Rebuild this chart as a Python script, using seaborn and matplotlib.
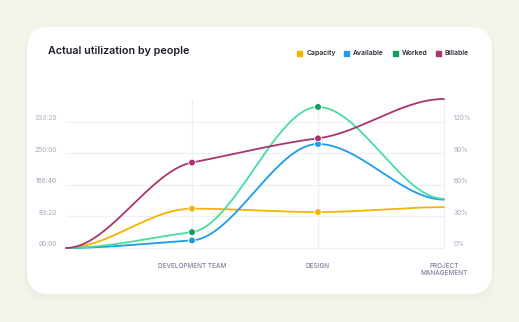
import numpy as np
import pandas as pd
import matplotlib
matplotlib.use("Agg")
import matplotlib.pyplot as plt
import seaborn as sns
from matplotlib.patches import FancyBboxPatch
from matplotlib.lines import Line2D
from matplotlib.transforms import ScaledTranslation

# ---------------- data ----------------
categories = ["", "DEVELOPMENT TEAM", "DESIGN", "PROJECT\nMANAGEMENT"]
series_names = ["Capacity", "Available", "Worked", "Billable"]
capacity = [0, 104, 95, 108]
available = [0, 20, 275, 128]
worked = [0, 42, 373, 130]
billable = [0, 226, 290, 394]
left_tick_values = [0, 83.333, 166.667, 250, 333.333]
left_tick_labels = ["00:00", "83:20", "166:40", "250:00", "333:20"]
right_tick_labels = ["0%", "30%", "60%", "90%", "120%"]
marked_categories = [1, 2]

line_colors = {"Capacity": "#F5B301", "Available": "#1C9CEB",
               "Worked": "#45DE9F", "Billable": "#A8356F"}
marker_colors = {"Capacity": "#F5B301", "Available": "#1C9CEB",
                 "Worked": "#0B9E61", "Billable": "#A8356F"}

values = {"Capacity": capacity, "Available": available,
          "Worked": worked, "Billable": billable}


def smooth_curve(xs, ys, n=150):
    xs = np.asarray(xs, float)
    ys = np.asarray(ys, float)
    h = np.diff(xs)
    d = np.diff(ys) / h
    t = np.zeros_like(ys)
    for i in range(1, len(ys) - 1):
        s0, s1 = d[i - 1], d[i]
        p = (s0 * h[i] + s1 * h[i - 1]) / (h[i - 1] + h[i])
        t[i] = (np.sign(s0) + np.sign(s1)) / 2 * min(abs(s0), abs(s1), 0.5 * abs(p))
    out_x, out_y = [], []
    for i in range(len(xs) - 1):
        u = np.linspace(0, 1, n)
        h00 = 2 * u**3 - 3 * u**2 + 1
        h10 = u**3 - 2 * u**2 + u
        h01 = -2 * u**3 + 3 * u**2
        h11 = u**3 - u**2
        yy = h00 * ys[i] + h10 * h[i] * t[i] + h01 * ys[i + 1] + h11 * h[i] * t[i + 1]
        out_x.extend(xs[i] + u * h[i])
        out_y.extend(yy)
    return np.array(out_x), np.array(out_y)


xpos = np.arange(len(categories))
rows = []
for name in series_names:
    cx, cy = smooth_curve(xpos, values[name])
    for a, b in zip(cx, cy):
        rows.append((name, a, b))
dense = pd.DataFrame(rows, columns=["series", "x", "y"])
pts = pd.DataFrame([(name, xpos[i], values[name][i]) for name in series_names
                    for i in marked_categories], columns=["series", "x", "y"])

# ---------------- figure ----------------
sns.set_theme(style="white")
plt.rcParams["font.family"] = ["Inter", "DejaVu Sans"]

W, H = 519, 322
fig = plt.figure(figsize=(W / 100, H / 100), dpi=100)
fig.patch.set_facecolor("#F4F3EA")

# card with soft shadow
for k, a in [(6, 0.05), (4, 0.06), (2, 0.08)]:
    sh = FancyBboxPatch((0.27 - k / 200, 0.28 - k / 100 - 0.01), 4.65 + k / 100, 2.67 + k / 100,
                        boxstyle="round,pad=0,rounding_size=0.24",
                        transform=fig.dpi_scale_trans, facecolor="#D9D6C4",
                        edgecolor="none", alpha=a, zorder=-2)
    fig.patches.append(sh)
card = FancyBboxPatch((0.27, 0.28), 4.65, 2.67,
                      boxstyle="round,pad=0,rounding_size=0.22",
                      transform=fig.dpi_scale_trans, facecolor="white",
                      edgecolor="none", zorder=-1)
fig.patches.append(card)

ax = fig.add_axes([66 / W, 74 / H, 378 / W, 149 / H])
ax.patch.set_alpha(0)
ymax = 394
ax.set_xlim(0, 3)
ax.set_ylim(0, ymax)

grid_c = "#EEF0F7"
for v in left_tick_values:
    ax.axhline(v, color=grid_c, lw=0.9, zorder=0, clip_on=False)
for xv in xpos[1:]:
    ax.axvline(xv, color=grid_c, lw=0.9, zorder=0, clip_on=False)

sns.lineplot(data=dense, x="x", y="y", hue="series", hue_order=series_names,
             palette=line_colors, estimator=None, sort=False, lw=1.3,
             legend=False, ax=ax)
for ln in ax.get_lines():
    ln.set_clip_on(False)
sns.scatterplot(data=pts, x="x", y="y", hue="series", hue_order=series_names,
                palette=marker_colors, s=24, edgecolor="white", linewidth=0.6,
                legend=False, ax=ax, zorder=5, clip_on=False)

for sp in ax.spines.values():
    sp.set_visible(False)

ax.set_xlabel("")
ax.set_ylabel("")
ax.set_xticks(xpos[1:])
ax.set_xticklabels(categories[1:], fontsize=4.6, color="#80809F",
                   fontweight=500, linespacing=1.35)
ax.set_yticks(left_tick_values)
ax.set_yticklabels(left_tick_labels, fontsize=4.8, color="#A5A5BD")
ax.tick_params(axis="x", length=0, pad=10.5)
ax.tick_params(axis="y", length=0, pad=6.5)
off = ScaledTranslation(0, 4 / 100, fig.dpi_scale_trans)
for lab in ax.get_yticklabels():
    lab.set_transform(lab.get_transform() + off)

ax2 = ax.twinx()
ax2.set_ylim(0, ymax)
ax2.set_yticks(left_tick_values)
ax2.set_yticklabels(right_tick_labels, fontsize=4.8, color="#A5A5BD")
ax2.tick_params(axis="y", length=0, pad=7)
for lab in ax2.get_yticklabels():
    lab.set_transform(lab.get_transform() + off)
for sp in ax2.spines.values():
    sp.set_visible(False)
ax2.patch.set_alpha(0)

fig.text(48 / W, 1 - 51 / H, "Actual utilization by people", fontsize=7.7,
         fontweight=600, color="#1D1D27", va="center", ha="left")

handles = [Line2D([], [], marker="s", linestyle="", markersize=3.6,
                  color=marker_colors[n]) for n in series_names]
fig.legend(handles, series_names, loc="center right",
           bbox_to_anchor=(472 / W, 1 - 53 / H), ncol=4, frameon=False,
           prop={"size": 4.9, "weight": 600}, handlelength=0.8,
           handletextpad=0.6, columnspacing=1.15, borderpad=0,
           labelcolor="#2A2A35")

fig.savefig("out.png", dpi=100)
